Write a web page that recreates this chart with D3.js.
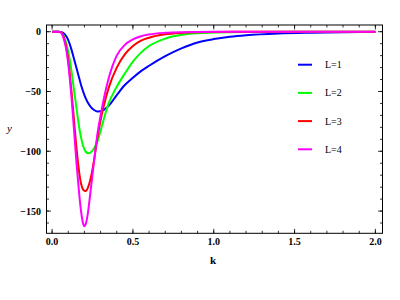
<!DOCTYPE html>
<html>
<head>
<meta charset="utf-8">
<script src="https://cdn.jsdelivr.net/npm/d3@7"></script>
<style>
  body { margin: 0; background: #fff; }
  text { font-family: "Liberation Serif", "DejaVu Serif", serif; }
</style>
</head>
<body>
<div class="container"></div>
<script>
// series names and colours
var seriesNames = ["L=1", "L=2", "L=3", "L=4"];
var colors = ["#0000ff", "#00ff00", "#ff0000", "#ff00ff"];

// values (k, y) for each curve
var kL1 = [0, 0.04, 0.06, 0.08, 0.10, 0.12, 0.14, 0.16, 0.18, 0.20, 0.22, 0.24, 0.26, 0.28, 0.30, 0.32, 0.35, 0.40, 0.45, 0.50, 0.55, 0.60, 0.70, 0.80, 0.90, 1.00, 1.10, 1.20, 1.40, 1.60, 1.80, 2.00];
var yL1 = [0, 0, -0.5, -2.5, -7, -15, -25, -35, -45, -53, -59, -63, -65.5, -66.7, -66.6, -65.3, -62, -53, -44.6, -38.5, -33, -28.5, -20.5, -14, -9, -6.2, -4.3, -3, -1.5, -0.8, -0.4, -0.2];

var kL2 = [0, 0.04, 0.05, 0.06, 0.07, 0.08, 0.09, 0.10, 0.11, 0.12, 0.13, 0.14, 0.15, 0.16, 0.17, 0.18, 0.19, 0.20, 0.21, 0.22, 0.23, 0.24, 0.26, 0.28, 0.30, 0.32, 0.35, 0.40, 0.45, 0.50, 0.55, 0.60, 0.70, 0.80, 0.90, 1.00, 1.20, 1.50, 2.00];
var yL2 = [0, 0, -0.2, -1, -3, -6.5, -11, -17, -24, -33, -43, -53, -63, -73, -82, -89, -94.5, -98.3, -100.6, -101.5, -101.6, -100.8, -97.5, -92, -83, -73, -60, -46, -35, -25, -17.5, -12, -5.8, -2.6, -1.2, -0.6, -0.2, -0.05, 0];

var kL3 = [0, 0.04, 0.05, 0.06, 0.07, 0.08, 0.09, 0.10, 0.11, 0.12, 0.13, 0.14, 0.15, 0.16, 0.17, 0.18, 0.19, 0.20, 0.21, 0.22, 0.24, 0.26, 0.28, 0.30, 0.32, 0.35, 0.40, 0.45, 0.50, 0.55, 0.60, 0.70, 0.80, 0.90, 1.00, 1.20, 2.00];
var yL3 = [0, 0, -0.2, -1.2, -4, -8.5, -15, -24, -36, -50, -65, -81, -96, -109, -120, -127.5, -131.5, -133, -133.2, -131, -122, -107, -89, -74, -62, -47, -30, -19, -12, -7.5, -5, -2.2, -1, -0.5, -0.25, -0.1, 0];

var kL4 = [0, 0.04, 0.05, 0.06, 0.07, 0.08, 0.09, 0.10, 0.11, 0.12, 0.13, 0.14, 0.15, 0.16, 0.17, 0.18, 0.19, 0.20, 0.21, 0.22, 0.24, 0.26, 0.28, 0.30, 0.32, 0.35, 0.40, 0.45, 0.50, 0.55, 0.60, 0.70, 0.80, 1.00, 2.00];
var yL4 = [0, 0, -0.3, -1.5, -5, -10, -17, -27, -40, -55, -72, -90, -108, -124, -139, -151, -159.5, -162.6, -160, -153, -131, -108, -86, -70, -56, -39, -20, -11, -6.5, -3.8, -2.3, -0.9, -0.4, -0.1, 0];

// tick values
var xMajor = [0, 0.5, 1.0, 1.5, 2.0];
var xMinor = d3.range(0, 2.05, 0.1);
var yMajor = [0, -50, -100, -150];
var yMinor = d3.range(-160, 6, 10);

var kData = [kL1, kL2, kL3, kL4];
var yData = [yL1, yL2, yL3, yL4];

var W = 400, H = 300;
var box = {left: 46.5, right: 382.5, top: 25, bottom: 233.3};

var svg = d3.select(".container")
  .append("svg")
    .attr("width", W)
    .attr("height", H);

var x = d3.scaleLinear()
  .domain([-0.0346, 2.044])
  .range([box.left, box.right]);

var y = d3.scaleLinear()
  .domain([-168.6, 5.6])
  .range([box.bottom, box.top]);

svg.append("clipPath")
  .attr("id", "plotclip")
  .append("rect")
    .attr("x", box.left)
    .attr("y", box.top)
    .attr("width", box.right - box.left)
    .attr("height", box.bottom - box.top);

// curves
var line = d3.line()
  .x(function(d) { return x(d[0]); })
  .y(function(d) { return y(d[1]); })
  .curve(d3.curveMonotoneX);

var curves = svg.append("g").attr("clip-path", "url(#plotclip)");
seriesNames.forEach(function(name, i) {
  var pts = kData[i].map(function(k, j) { return [k, yData[i][j]]; });
  curves.append("path")
    .datum(pts)
    .attr("fill", "none")
    .attr("stroke", colors[i])
    .attr("stroke-width", 2)
    .attr("d", line);
});

// frame
svg.append("rect")
  .attr("x", box.left)
  .attr("y", box.top)
  .attr("width", box.right - box.left)
  .attr("height", box.bottom - box.top)
  .attr("fill", "none")
  .attr("stroke", "#000")
  .attr("stroke-width", 1);

// ticks on all four sides, pointing inward
var ticks = svg.append("g").attr("stroke", "#000").attr("stroke-width", 0.8);
function xTick(v, len) {
  ticks.append("line").attr("x1", x(v)).attr("x2", x(v)).attr("y1", box.bottom).attr("y2", box.bottom - len);
  ticks.append("line").attr("x1", x(v)).attr("x2", x(v)).attr("y1", box.top).attr("y2", box.top + len);
}
function yTick(v, len) {
  ticks.append("line").attr("y1", y(v)).attr("y2", y(v)).attr("x1", box.left).attr("x2", box.left + len);
  ticks.append("line").attr("y1", y(v)).attr("y2", y(v)).attr("x1", box.right).attr("x2", box.right - len);
}
xMinor.forEach(function(v) { xTick(v, 2.5); });
xMajor.forEach(function(v) { xTick(v, 4.5); });
yMinor.forEach(function(v) { yTick(v, 2.5); });
yMajor.forEach(function(v) { yTick(v, 4.5); });

// tick labels
svg.append("g")
  .selectAll("text")
  .data(xMajor)
  .enter()
  .append("text")
    .attr("x", function(d) { return x(d); })
    .attr("y", 245)
    .attr("text-anchor", "middle")
    .attr("font-size", 10)
    .attr("font-weight", "bold")
    .text(function(d) { return d.toFixed(1); });

svg.append("g")
  .selectAll("text")
  .data(yMajor)
  .enter()
  .append("text")
    .attr("x", 41)
    .attr("y", function(d) { return y(d) + 3.5; })
    .attr("text-anchor", "end")
    .attr("font-size", 10)
    .attr("font-weight", "bold")
    .text(function(d) { return d < 0 ? "\u2212" + Math.abs(d) : "0"; });

// axis labels
svg.append("text")
  .attr("x", 213)
  .attr("y", 264)
  .attr("text-anchor", "middle")
  .attr("font-size", 11)
  .attr("font-weight", "bold")
  .text("k");

svg.append("text")
  .attr("x", 9.5)
  .attr("y", 132)
  .attr("text-anchor", "middle")
  .attr("font-size", 11)
  .attr("font-style", "italic")
  .text("y");

// legend
var legend = svg.append("g");
seriesNames.forEach(function(name, i) {
  var ly = 64.7 + i * 28.2;
  legend.append("line")
    .attr("x1", 298).attr("x2", 312)
    .attr("y1", ly).attr("y2", ly)
    .attr("stroke", colors[i])
    .attr("stroke-width", 2);
  legend.append("text")
    .attr("x", 325)
    .attr("y", ly + 3.5)
    .attr("font-size", 10)
    .text(name);
});
</script>
</body>
</html>
